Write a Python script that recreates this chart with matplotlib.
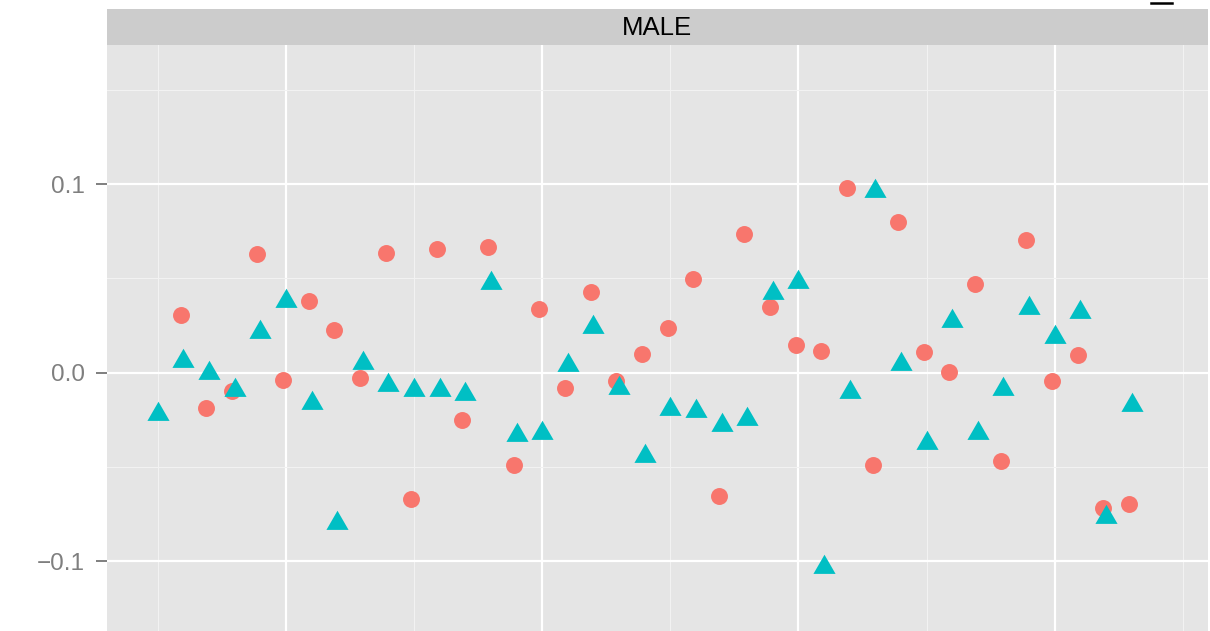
import matplotlib
matplotlib.use('Agg')

import matplotlib.pyplot as plt
from matplotlib.path import Path
from matplotlib.lines import Line2D
from matplotlib.ticker import FixedLocator

plt.rcParams['font.family'] = ['Liberation Sans', 'DejaVu Sans']

# observation index (triangles start one step earlier than circles)
tri_x = list(range(5, 44))
circ_x = list(range(6, 44))
dodge = 0.11

circ_y = [0.0308, -0.0186, -0.0099, 0.0631, -0.0037, 0.0382, 0.0228, -0.0027,
          0.0636, -0.0668, 0.0654, -0.0249, 0.0668, -0.0488, 0.0339, -0.0080,
          0.0429, -0.0042, 0.0098, 0.0239, 0.0498, -0.0652, 0.0737, 0.0350,
          0.0148, 0.0117, 0.0981, -0.0491, 0.0801, 0.0111, 0.0005, 0.0472,
          -0.0467, 0.0705, -0.0042, 0.0095, -0.0716, -0.0695]

tri_y = [-0.0217, 0.0061, 0.0000, -0.0093, 0.0216, 0.0382, -0.0160, -0.0795,
         0.0050, -0.0065, -0.0091, -0.0091, -0.0114, 0.0478, -0.0333, -0.0319,
         0.0040, 0.0241, -0.0082, -0.0443, -0.0190, -0.0201, -0.0279, -0.0247,
         0.0423, 0.0481, -0.1028, -0.0102, 0.0966, 0.0048, -0.0372, 0.0273,
         -0.0321, -0.0086, 0.0344, 0.0191, 0.0321, -0.0766, -0.0169]

y_ticks = [-0.1, 0.0, 0.1]
y_labels = ['\u22120.1', '0.0', '0.1']
strip_label = 'MALE'

red = '#F8766D'
cyan = '#00BFC4'

# triangle centred on its centroid, like R's pch 17
tri_marker = Path([(0, 1), (-0.866, -0.5), (0.866, -0.5), (0, 1)],
                  [Path.MOVETO, Path.LINETO, Path.LINETO, Path.CLOSEPOLY])

W, H = 1210, 631
fig = plt.figure(figsize=(W / 100, H / 100), dpi=100)

left, right, top = 107, 1207.5, 45
ax = fig.add_axes([left / W, 0, (right - left) / W, 1 - top / H])
ax.set_facecolor('#E5E5E5')
for s in ax.spines.values():
    s.set_visible(False)

ax.set_xlim(3.02, 45.96)
ax.set_ylim(-0.137, 0.1738)

ax.xaxis.set_major_locator(FixedLocator([10, 20, 30, 40]))
ax.xaxis.set_minor_locator(FixedLocator([5, 15, 25, 35, 45]))
ax.yaxis.set_major_locator(FixedLocator(y_ticks))
ax.yaxis.set_minor_locator(FixedLocator([-0.15, -0.05, 0.05, 0.15]))
ax.set_yticklabels(y_labels)

ax.grid(which='major', color='white', linewidth=1.6)
ax.grid(which='minor', color='#F2F2F2', linewidth=0.8)
ax.set_axisbelow(True)

ax.tick_params(axis='x', which='both', length=0, labelbottom=False)
ax.tick_params(axis='y', which='major', length=8, width=1.4, color='#7F7F7F',
               labelcolor='#7F7F7F', labelsize=17.5, pad=8)
ax.tick_params(axis='y', which='minor', length=0)

ax.plot([x - dodge for x in circ_x], circ_y, linestyle='none', marker='o',
        markersize=12.2, markerfacecolor=red, markeredgewidth=0, zorder=3)
ax.plot(tri_x, tri_y, linestyle='none', marker=tri_marker,
        markersize=18.4, markerfacecolor=cyan, markeredgewidth=0, zorder=3)

# facet strip
strip = fig.add_axes([left / W, 1 - top / H, (right - left) / W, 36 / H])
strip.set_facecolor('#CCCCCC')
strip.set_xticks([])
strip.set_yticks([])
for s in strip.spines.values():
    s.set_visible(False)
strip.text(0.5, 0.47, strip_label, ha='center', va='center', fontsize=18.5,
           color='black', transform=strip.transAxes)

# clipped remnant of text above the strip
fig.add_artist(Line2D([1151 / W, 1172 / W], [1 - 2.5 / H, 1 - 2.5 / H],
                      color='black', linewidth=1.8, transform=fig.transFigure))

fig.savefig('out.png', dpi=100)
plt.close(fig)
